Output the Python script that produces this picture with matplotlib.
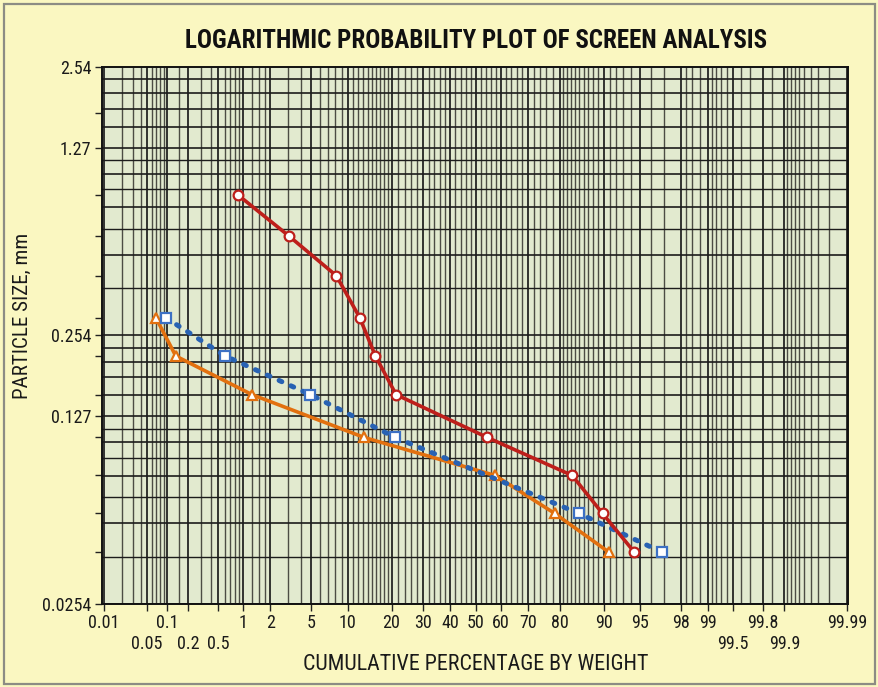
import math
import numpy as np
import matplotlib
matplotlib.use("Agg")
import matplotlib.pyplot as plt
from matplotlib.patches import Rectangle

# sieve openings (mm), shared by all three samples
sizes = [0.85, 0.597, 0.424, 0.296, 0.213, 0.153, 0.106, 0.0765, 0.0552, 0.0396]
red_pct = [0.86, 3.07, 8.17, 12.3, 15.8, 21.3, 54.6, 83.3, 89.8, 94.4]

blue_sizes = [0.296, 0.213, 0.153, 0.106, 0.0552, 0.0396]
blue_pct = [0.096, 0.61, 4.9, 21.0, 85.0, 96.9]

orange_sizes = [0.296, 0.213, 0.153, 0.106, 0.0765, 0.0552, 0.0396]
orange_pct = [0.0685, 0.1345, 1.26, 13.2, 57.7, 78.6, 90.9]

sieve_ticks = [1.71] + sizes
y_labels = [2.54, 1.27, 0.254, 0.127, 0.0254]
x_top = [0.01, 0.1, 1, 2, 5, 10, 20, 30, 40, 50, 60, 70, 80, 90, 95, 98, 99, 99.8, 99.99]
x_bottom = [0.05, 0.2, 0.5, 99.5, 99.9]

# probability paper lines (percent, lower half; upper half mirrored)
low_lines = ([k / 100 for k in range(1, 10)] + [0.1, 0.15] + [k / 10 for k in range(2, 10)]
             + [1, 1.25, 1.5, 1.75] + list(range(2, 10)) + list(range(10, 20))
             + list(range(20, 50, 2)))
grid_x = sorted(set([round(v, 4) for v in low_lines] + [50]
                    + [round(100 - v, 4) for v in low_lines]))
grid_k = [1, 1.5, 2, 2.5, 3, 3.5, 4, 4.5, 5, 6, 7, 8, 9]


# inverse normal cdf (Acklam), no scipy here
A = [-3.969683028665376e+01, 2.209460984245205e+02, -2.759285104469687e+02,
     1.383577518672690e+02, -3.066479806614716e+01, 2.506628277459239e+00]
B = [-5.447609879822406e+01, 1.615858368580409e+02, -1.556989798598866e+02,
     6.680131188771972e+01, -1.328068155288572e+01]
C = [-7.784894002430293e-03, -3.223964580411365e-01, -2.400758277161838e+00,
     -2.549732539343734e+00, 4.374664141464968e+00, 2.938163982698783e+00]
D = [7.784695709041462e-03, 3.224671290700398e-01, 2.445134137142996e+00,
     3.754408661907416e+00]


def ppf(p):
    p = np.clip(np.asarray(p, dtype=float), 1e-12, 1 - 1e-12)
    q = p - 0.5
    r = q * q
    mid = (((((A[0] * r + A[1]) * r + A[2]) * r + A[3]) * r + A[4]) * r + A[5]) * q / \
          (((((B[0] * r + B[1]) * r + B[2]) * r + B[3]) * r + B[4]) * r + 1)
    t = np.sqrt(-2 * np.log(np.minimum(p, 1 - p)))
    tail = (((((C[0] * t + C[1]) * t + C[2]) * t + C[3]) * t + C[4]) * t + C[5]) / \
           ((((D[0] * t + D[1]) * t + D[2]) * t + D[3]) * t + 1)
    tail = np.where(p < 0.5, tail, -tail)
    return np.where(np.abs(q) <= 0.5 - 0.02425, mid, tail)


_erf = np.vectorize(math.erf)


def fwd(pct):
    return ppf(np.asarray(pct, dtype=float) / 100.0)


def inv(z):
    return 50.0 * (1 + _erf(np.asarray(z, dtype=float) / math.sqrt(2)))


plt.rcParams["font.family"] = ["Roboto Condensed", "Liberation Sans", "DejaVu Sans"]
fs = 13

fig = plt.figure(figsize=(8.79, 6.87), dpi=100)
fig.patch.set_facecolor("#FAF7C1")
fig.patches.append(Rectangle((0.005, 0.005), 0.99, 0.989, transform=fig.transFigure,
                             fill=False, edgecolor="#8c8c84", linewidth=1.6))

ax = fig.add_axes([0.1166, 0.1208, 0.8487, 0.7817])
ax.set_facecolor("#E2EACF")
ax.set_xscale("function", functions=(fwd, inv))
ax.set_yscale("log")
ax.set_xlim(0.0094, 99.9905)
ax.set_ylim(0.0254, 2.54)

for v in grid_x:
    major = v in x_top or v in x_bottom
    ax.axvline(v, color="#141414" if major else "#4c4c44", lw=1.2 if major else 1.0, zorder=1)
for dec in [0.0254, 0.254]:
    for k in grid_k:
        ax.axhline(dec * k, color="#1c1c1c", lw=1.2 if k == int(k) else 1.0, zorder=1)

ax.plot(orange_pct, orange_sizes, color="#E2700F", lw=2.6, marker="^", ms=7.5,
        mfc="white", mec="#E2700F", mew=1.6, zorder=3)
ax.plot(blue_pct, blue_sizes, color="#2862B3", lw=3.6, ls=(0, (0.6, 2.0)),
        dash_capstyle="round", marker="s", ms=7, mfc="white", mec="#3C70C4",
        mew=1.6, zorder=4)
ax.plot(red_pct, sizes, color="#BE1F1B", lw=2.6, marker="o", ms=7,
        mfc="white", mec="#BE1F1B", mew=1.6, zorder=5)

ax.set_xticks(x_top)
ax.set_xticklabels(["%g" % v for v in x_top], fontsize=fs)
ax.set_xticks(x_bottom, minor=True)
ax.set_xticklabels(["%g" % v for v in x_bottom], minor=True, fontsize=fs)
ax.set_yticks(y_labels)
ax.set_yticklabels(["%g" % v for v in y_labels], fontsize=fs)
ax.set_yticks(sieve_ticks, minor=True)
ax.yaxis.set_minor_formatter(matplotlib.ticker.NullFormatter())
ax.tick_params(axis="both", which="both", direction="out", length=5, width=1,
               color="#222222", labelcolor="#1a1a1a")
ax.tick_params(axis="x", which="major", pad=2)
ax.tick_params(axis="x", which="minor", pad=17)
ax.tick_params(axis="y", pad=3)
for s in ax.spines.values():
    s.set_linewidth(1.4)
    s.set_color("#111111")

title = fig.text(0.5415, 1 - 41 / 687, "LOGARITHMIC PROBABILITY PLOT OF SCREEN ANALYSIS",
                 ha="center", va="center", fontsize=15, fontweight="bold", color="#111111")
xlab = fig.text(0.5415, 1 - 664 / 687, "CUMULATIVE PERCENTAGE BY WEIGHT",
                ha="center", va="center", fontsize=13, color="#1a1a1a")
ylab = fig.text(22 / 879, 1 - 316 / 687, "PARTICLE SIZE, mm", rotation=90,
                ha="center", va="center", fontsize=13, color="#1a1a1a")

# size the free texts close to the widths seen in the picture
fig.canvas.draw()
r = fig.canvas.get_renderer()
for t, target, vert in [(title, 585, False), (xlab, 345, False), (ylab, 165, True)]:
    bb = t.get_window_extent(r)
    cur = bb.height if vert else bb.width
    t.set_fontsize(t.get_fontsize() * target / cur)

fig.savefig("out.png", dpi=100, facecolor=fig.get_facecolor())
